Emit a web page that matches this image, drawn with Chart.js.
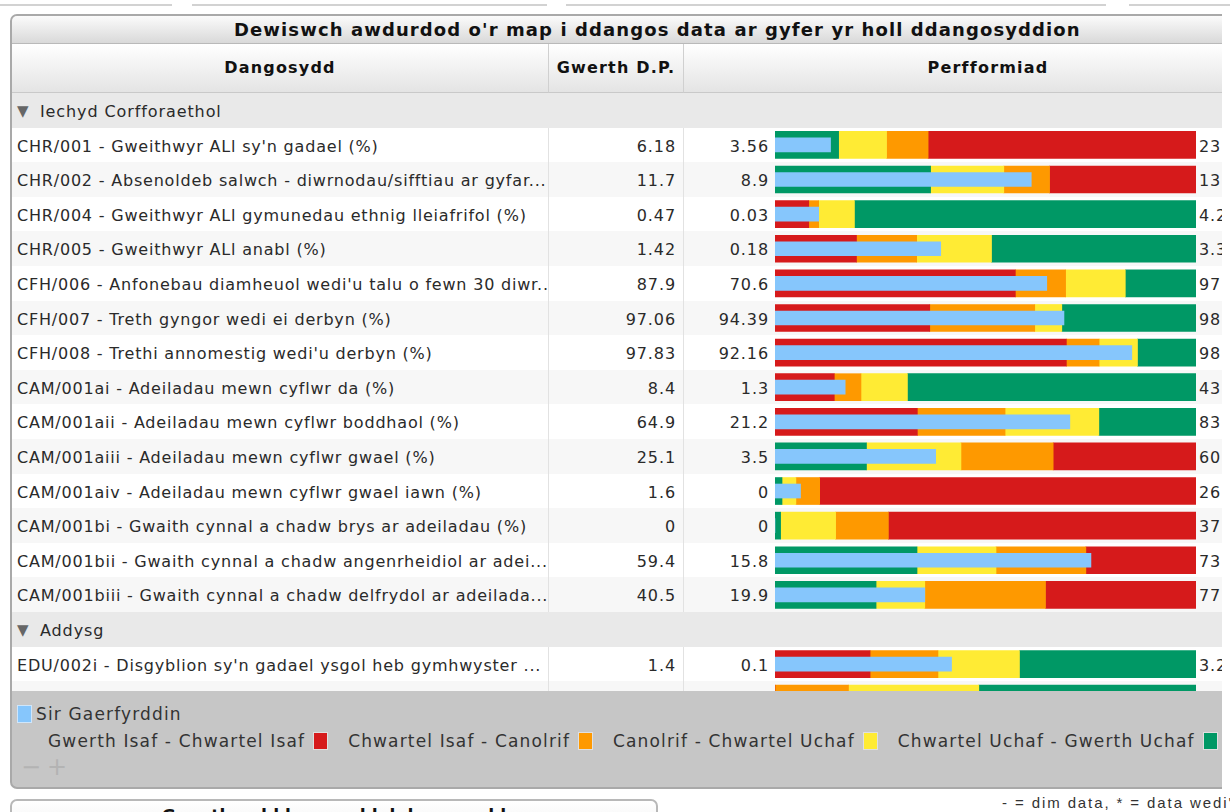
<!DOCTYPE html>
<html>
<head>
<meta charset="utf-8">
<script src="https://cdn.jsdelivr.net/npm/chart.js@4/dist/chart.umd.min.js"></script>
<style>
  body { margin: 0; width: 1230px; height: 812px; overflow: hidden; background: #fff;
         font-family: "DejaVu Sans", Verdana, sans-serif; color: #2a2a2a; position: relative; }
  .tabline { position: absolute; top: 4px; height: 2px; background: #d2d2d2; }
  .panel { position: absolute; left: 10px; top: 14px; width: 1280px; height: 771px;
           border: 2px solid #a9a9a9; border-radius: 7px; background: #c6c6c6; overflow: hidden; }
  .title { position: absolute; left: 0; top: 0; width: 1280px; height: 27px;
           background: linear-gradient(#fbfbfb, #d9d9d9); border-bottom: 1px solid #b9b9b9;
           font-weight: bold; font-size: 18px; letter-spacing: 1.1px; line-height: 28px; color: #111; }
  .title span { position: absolute; left: 222px; }
  .head { position: absolute; top: 28px; height: 48px; background: linear-gradient(#ffffff, #e4e4e4);
          border-bottom: 1px solid #c9c9c9; border-right: 1px solid #d0d0d0;
          font-weight: bold; font-size: 16px; letter-spacing: 1.2px; line-height: 48px; text-align: center; color: #111; }
  #rows { position: absolute; left: 0; top: 77px; width: 1280px; height: 598px; overflow: hidden; background: #fff; }
  .row { position: absolute; left: 0; width: 1280px; height: 34.6px; font-size: 16px; letter-spacing: 0.9px;
         line-height: 37px; white-space: nowrap; }
  .grp { background: #e9e9e9; }
  .grp .tri { position: absolute; left: 5px; color: #666; font-size: 15px; letter-spacing: 0; }
  .grp .gname { position: absolute; left: 28px; }
  .lbl { position: absolute; left: 5px; width: 531px; overflow: hidden; letter-spacing: 0.8px; }
  .val { position: absolute; left: 538px; width: 126px; text-align: right; }
  .mn { position: absolute; left: 673px; width: 84px; text-align: right; }
  .mx { position: absolute; left: 1187px; }
  .vl { position: absolute; top: 0; width: 1px; height: 34.6px; background: #e2e2e2; }
  #bars { position: absolute; left: 763px; top: 0; }
  .legend { position: absolute; font-size: 17px; letter-spacing: 1.15px; color: #333; white-space: nowrap; }
  .sw { display: inline-block; width: 13px; height: 16px; border: 1px solid #e0e0e0; vertical-align: -3px; margin: 0 20px 0 8px; }
  .zoomctl { position: absolute; left: 9px; top: 737px; font-size: 24px; color: #b3b3b3; letter-spacing: 6px; }
  .panel2 { position: absolute; left: 10px; top: 799px; width: 644px; height: 40px; border: 2px solid #b8b8b8;
            border-radius: 7px; background: linear-gradient(#ffffff, #eeeeee); }
  .panel2 div { text-align: center; font-weight: bold; font-size: 17px; padding-top: 5px; color: #111; }
  .foot { position: absolute; left: 1002px; top: 794px; font-family: "Liberation Sans", Arial, sans-serif;
          font-size: 15px; letter-spacing: 1.9px; color: #333; white-space: nowrap; }
  .edge { position: absolute; left: 1222px; top: 10px; width: 8px; height: 782px; background: #fff; }
</style>
</head>
<body>
<div class="tabline" style="left:0;width:172px"></div>
<div class="tabline" style="left:192px;width:355px"></div>
<div class="tabline" style="left:566px;width:540px"></div>
<div class="tabline" style="left:1129px;width:101px"></div>

<div class="panel">
  <div class="title"><span>Dewiswch awdurdod o'r map i ddangos data ar gyfer yr holl ddangosyddion</span></div>
  <div class="head" style="left:0;width:536px">Dangosydd</div>
  <div class="head" style="left:537px;width:134px">Gwerth D.P.</div>
  <div class="head" style="left:672px;width:608px">Perfformiad</div>
  <div id="rows">
    <canvas id="bars" width="421" height="623" style="width:421px;height:623px"></canvas>
  </div>
  <div class="legend" style="left:5px;top:688px"><span class="sw" style="background:#86c6fc;margin:0 4px 0 0;border-color:#cfe6fb"></span>Sir Gaerfyrddin</div>
  <div class="legend" style="left:36px;top:715px" id="quartLegend"></div>
  <div class="zoomctl">−+</div>
</div>
<div class="edge"></div>

<div class="panel2"><div>Gwerthoedd hanesyddol dangosydd</div></div>
<div class="foot">- = dim data, * = data wedi'i amcangyfrif</div>

<script>
const groups = ['Iechyd Corfforaethol', 'Addysg'];
const groupStart = [0, 14];

const indicators = [
  "CHR/001 - Gweithwyr ALl sy'n gadael (%)",
  "CHR/002 - Absenoldeb salwch - diwrnodau/sifftiau ar gyfar...",
  "CHR/004 - Gweithwyr ALl gymunedau ethnig lleiafrifol (%)",
  "CHR/005 - Gweithwyr ALl anabl (%)",
  "CFH/006 - Anfonebau diamheuol wedi'u talu o fewn 30 diwr...",
  "CFH/007 - Treth gyngor wedi ei derbyn (%)",
  "CFH/008 - Trethi annomestig wedi'u derbyn (%)",
  "CAM/001ai - Adeiladau mewn cyflwr da (%)",
  "CAM/001aii - Adeiladau mewn cyflwr boddhaol (%)",
  "CAM/001aiii - Adeiladau mewn cyflwr gwael (%)",
  "CAM/001aiv - Adeiladau mewn cyflwr gwael iawn (%)",
  "CAM/001bi - Gwaith cynnal a chadw brys ar adeiladau (%)",
  "CAM/001bii - Gwaith cynnal a chadw angenrheidiol ar adei...",
  "CAM/001biii - Gwaith cynnal a chadw delfrydol ar adeilada...",
  "EDU/002i - Disgyblion sy'n gadael ysgol heb gymhwyster ...",
  "EDU/002ii - Disgyblion mewn gofal sy'n gadael ysgol heb ..."
];
const laValues     = [6.18, 11.7, 0.47, 1.42, 87.9, 97.06, 97.83, 8.4, 64.9, 25.1, 1.6, 0, 59.4, 40.5, 1.4, 4.6];
const minValues    = [3.56, 8.9, 0.03, 0.18, 70.6, 94.39, 92.16, 1.3, 21.2, 3.5, 0, 0, 15.8, 19.9, 0.1, 0];
const q1Values     = [6.56, 10.6, 0.37, 0.79, 85.9, 95.82, 96.79, 7.3, 42.3, 15.8, 0.44, 0.5, 35.4, 33.8, 0.8, 0];
const medianValues = [8.82, 11.4, 0.47, 1.24, 89.1, 96.79, 97.31, 10.0, 55.3, 28.5, 1.31, 5.4, 46.3, 40.5, 1.3, 1.1];
const q3Values     = [10.78, 11.9, 0.83, 1.8, 92.9, 97.04, 97.92, 14.7, 69.2, 40.9, 2.8, 10.1, 58.7, 57.1, 1.9, 3.05];
const maxValues    = [23.41, 13.5, 4.27, 3.33, 97.4, 98.28, 98.85, 43.9, 83.6, 60.1, 26.4, 37.5, 73.9, 77.8, 3.2, 6.3];
const higherIsBetter = [false, false, true, true, true, true, true, true, true, false, false, false, false, false, true, true];

const bandNames = ['Gwerth Isaf - Chwartel Isaf', 'Chwartel Isaf - Canolrif', 'Canolrif - Chwartel Uchaf', 'Chwartel Uchaf - Gwerth Uchaf'];
const bandColors = ['#d61a1b', '#fe9900', '#ffeb34', '#009865'];
const laColor = '#86c6fc';

// build the row list: group headings interleaved with indicators
const rowList = [];
indicators.forEach((name, i) => {
  const g = groupStart.indexOf(i);
  if (g >= 0) rowList.push({ group: groups[g] });
  rowList.push({ idx: i });
});

const rowsEl = document.getElementById('rows');
let stripe = 0;
rowList.forEach((r, k) => {
  const div = document.createElement('div');
  div.className = 'row';
  div.style.top = (k * 34.6) + 'px';
  if (r.group) {
    div.classList.add('grp');
    div.innerHTML = `<span class="tri">▼</span><span class="gname">${r.group}</span>`;
    stripe = 0;
  } else {
    const i = r.idx;
    div.style.background = stripe % 2 ? '#f7f7f7' : '#ffffff';
    stripe++;
    div.innerHTML = `<span class="lbl">${indicators[i]}</span>` +
      `<span class="vl" style="left:536px"></span><span class="vl" style="left:671px"></span>` +
      `<span class="val">${laValues[i]}</span>` +
      `<span class="mn">${minValues[i]}</span>` +
      `<span class="mx">${maxValues[i]}</span>`;
  }
  rowsEl.insertBefore(div, rowsEl.firstChild);
});

document.getElementById('quartLegend').innerHTML = bandNames
  .map((n, i) => `${n}<span class="sw" style="background:${bandColors[i]}"></span>`).join('');

// each indicator is drawn on its own min..max range, scaled to 0..1
function frac(v, i) {
  return (v - minValues[i]) / (maxValues[i] - minValues[i]);
}
const cuts = [minValues, q1Values, medianValues, q3Values, maxValues];
const labels = rowList.map((r, k) => 'r' + k);

const bandSets = [0, 1, 2, 3].map(b => ({
  label: bandNames[b],
  data: rowList.map(r => r.group ? null : [frac(cuts[b][r.idx], r.idx), frac(cuts[b + 1][r.idx], r.idx)]),
  backgroundColor: rowList.map(r => {
    if (r.group) return 'transparent';
    return higherIsBetter[r.idx] ? bandColors[b] : bandColors[3 - b];
  }),
  barThickness: 27,
  grouped: false,
  order: 1
}));

const laSet = {
  label: 'Sir Gaerfyrddin',
  data: rowList.map(r => r.group ? null : [0, frac(laValues[r.idx], r.idx)]),
  backgroundColor: laColor,
  barThickness: 14,
  grouped: false,
  order: 0
};

new Chart(document.getElementById('bars'), {
  type: 'bar',
  data: { labels, datasets: [laSet, ...bandSets] },
  options: {
    indexAxis: 'y',
    responsive: false,
    animation: false,
    layout: { padding: 0 },
    plugins: { legend: { display: false }, tooltip: { enabled: false } },
    scales: {
      x: { min: 0, max: 1, display: false },
      y: { display: false }
    }
  }
});
</script>
</body>
</html>
